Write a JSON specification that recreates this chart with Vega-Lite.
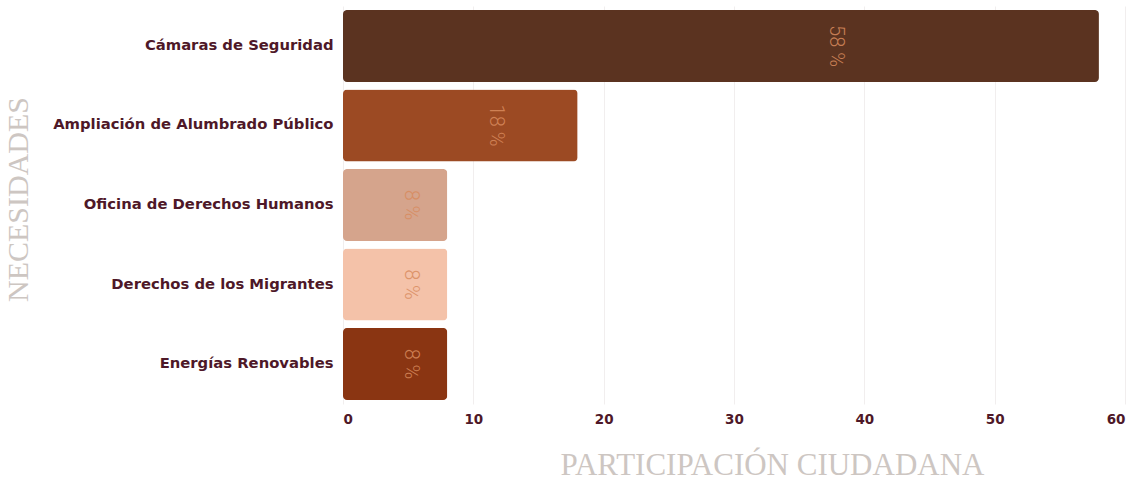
{
  "$schema": "https://vega.github.io/schema/vega-lite/v6.json",
  "width": 782,
  "height": 398,
  "autosize": {"type": "none"},
  "padding": {"left": 343, "top": 6, "right": 19, "bottom": 77},
  "background": "#ffffff",
  "config": {"view": {"stroke": null}},
  "data": {
    "values": [
      {"necesidad": "Cámaras de Seguridad", "v": 58, "label": "58 %", "color": "#5b3320"},
      {"necesidad": "Ampliación de Alumbrado Público", "v": 18, "label": "18 %", "color": "#9c4a23"},
      {"necesidad": "Oficina de Derechos Humanos", "v": 8, "label": "8 %", "color": "#d5a48c"},
      {"necesidad": "Derechos de los Migrantes", "v": 8, "label": "8 %", "color": "#f4c2a9"},
      {"necesidad": "Energías Renovables", "v": 8, "label": "8 %", "color": "#8a3512"}
    ]
  },
  "encoding": {
    "y": {
      "field": "necesidad",
      "type": "nominal",
      "sort": null,
      "scale": {"paddingInner": 0.094, "paddingOuter": 0.05},
      "axis": {
        "title": "NECESIDADES",
        "titleFont": "Liberation Serif",
        "titleFontSize": 30,
        "titleFontWeight": "normal",
        "titleColor": "#cdc6c2",
        "titleX": -325,
        "titleY": 193,
        "titleAngle": -90,
        "titleAlign": "center",
        "titleBaseline": "middle",
        "labelFont": "DejaVu Sans",
        "labelFontWeight": "bold",
        "labelFontSize": 14.8,
        "labelColor": "#4e1828",
        "labelPadding": 10,
        "labelLimit": 400,
        "ticks": false,
        "domain": false
      }
    }
  },
  "layer": [
    {
      "mark": {"type": "bar", "cornerRadius": 4},
      "encoding": {
        "x": {
          "field": "v",
          "type": "quantitative",
          "scale": {"domain": [0, 60], "nice": false},
          "axis": {
            "title": "PARTICIPACIÓN CIUDADANA",
            "titleFont": "Liberation Serif",
            "titleFontSize": 31,
            "titleFontWeight": "normal",
            "titleColor": "#cdc6c2",
            "titleX": 429,
            "titleY": 61,
            "titleAlign": "center",
            "titleBaseline": "middle",
            "values": [0, 10, 20, 30, 40, 50, 60],
            "labelFont": "DejaVu Sans",
            "labelFontWeight": "bold",
            "labelFontSize": 13.5,
            "labelColor": "#4e1828",
            "labelPadding": 8,
            "ticks": false,
            "domain": false,
            "grid": true,
            "gridColor": "#f1eeee",
            "gridWidth": 1
          }
        },
        "color": {"field": "color", "type": "nominal", "scale": null, "legend": null}
      }
    },
    {
      "mark": {"type": "text", "angle": 90, "align": "center", "baseline": "middle", "font": "Roboto", "fontWeight": 300, "fontSize": 20, "color": "#d98b5e", "opacity": 0.85},
      "encoding": {
        "x": {
          "field": "v",
          "type": "quantitative",
          "scale": {"domain": [0, 92], "nice": false},
          "axis": null
        },
        "text": {"field": "label"}
      }
    }
  ],
  "resolve": {"scale": {"x": "independent"}}
}
